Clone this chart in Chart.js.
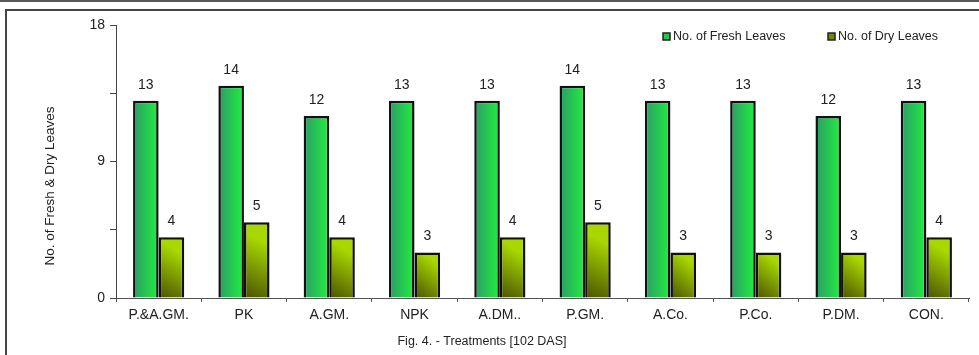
<!DOCTYPE html>
<html>
<head>
<meta charset="utf-8">
<script src="https://cdn.jsdelivr.net/npm/chart.js@4.4.0/dist/chart.umd.min.js"></script>
<style>
  html, body { margin: 0; padding: 0; background: #fff; }
  #wrap { position: relative; width: 979px; height: 355px; overflow: hidden; }
  #topline { position: absolute; left: 0; top: 0; width: 979px; height: 2px; background: #5a5a5a; }
  #frame { position: absolute; left: 5px; top: 9px; width: 1000px; height: 400px; border-left: 2px solid #444; border-top: 2px solid #444; }
  #myChart { position: absolute; left: 0; top: 0; }
</style>
</head>
<body>
<div id="wrap">
  <div id="topline"></div>
  <div id="frame"></div>
  <canvas id="myChart" width="979" height="355"></canvas>
</div>
<script>
// chart data
const treatments = ["P.&A.GM.", "PK", "A.GM.", "NPK", "A.DM..", "P.GM.", "A.Co.", "P.Co.", "P.DM.", "CON."];
const freshLeaves = [13, 14, 12, 13, 13, 14, 13, 13, 12, 13];
const dryLeaves = [4, 5, 4, 3, 4, 5, 3, 3, 3, 4];
const seriesNames = ["No. of Fresh Leaves", "No. of Dry Leaves"];
const yTicks = [0, 9, 18];

const FONT = "Liberation Sans, Arial, sans-serif";

// gradient per bar, built from the scales
function barGradient(ctx, dark, light, side) {
  const chart = ctx.chart;
  const x = chart.scales.x, y = chart.scales.y;
  if (!chart.chartArea || !x || !y) return light;
  const cw = x.width / treatments.length;
  const bw = cw * 0.6 / 2;
  const cx = x.getPixelForValue(ctx.dataIndex) + (side ? bw / 2 : -bw / 2);
  const top = y.getPixelForValue(ctx.raw);
  const base = y.getPixelForValue(0);
  // fresh: left->right, dry: bottom-left -> top-right
  const y1 = side ? base : top;
  const y2 = side ? top + (base - top) * 0.3 : top;
  const g = chart.ctx.createLinearGradient(cx - bw / 2, y1, cx + bw / 2, y2);
  g.addColorStop(0, dark);
  g.addColorStop(1, light);
  return g;
}

const valueLabels = {
  id: "valueLabels",
  afterDatasetsDraw(chart) {
    const c = chart.ctx;
    c.save();
    c.font = "14px " + FONT;
    c.fillStyle = "#222";
    c.textAlign = "center";
    c.textBaseline = "bottom";
    chart.data.datasets.forEach((ds, i) => {
      chart.getDatasetMeta(i).data.forEach((bar, j) => {
        c.fillText(ds.data[j], bar.x, bar.y - 9);
      });
    });
    c.restore();
  }
};

const extraText = {
  id: "extraText",
  afterDraw(chart) {
    const c = chart.ctx;
    c.save();
    // legend
    c.font = "12.5px " + FONT;
    c.textBaseline = "middle";
    c.textAlign = "left";
    const items = [[663, "#2fc24e", seriesNames[0]], [828, "#6e8a00", seriesNames[1]]];
    items.forEach(it => {
      c.fillStyle = it[1];
      c.fillRect(it[0], 33, 7, 7);
      c.strokeStyle = "#222";
      c.lineWidth = 1.5;
      c.strokeRect(it[0], 33, 7, 7);
      c.fillStyle = "#222";
      c.fillText(it[2], it[0] + 10, 37);
    });
    // axis titles
    c.font = "12.5px " + FONT;
    c.textAlign = "center";
    c.fillText("Fig. 4. - Treatments [102 DAS]", 482, 342);
    c.font = "13.5px " + FONT;
    c.translate(50, 186);
    c.rotate(-Math.PI / 2);
    c.fillText("No. of Fresh & Dry Leaves", 0, 0);
    c.restore();
  }
};

new Chart("myChart", {
  type: "bar",
  data: {
    labels: treatments,
    datasets: [{
      label: seriesNames[0],
      data: freshLeaves,
      backgroundColor: ctx => barGradient(ctx, "#2e9a6a", "#1ff03c", 0),
      borderColor: "#111",
      borderWidth: 2.5,
      borderSkipped: "bottom"
    }, {
      label: seriesNames[1],
      data: dryLeaves,
      backgroundColor: ctx => barGradient(ctx, "#4a5200", "#a8d800", 1),
      borderColor: "#111",
      borderWidth: 2.5,
      borderSkipped: "bottom"
    }]
  },
  options: {
    responsive: false,
    animation: false,
    layout: { padding: { top: 25, right: 10, bottom: 0, left: 0 } },
    plugins: { legend: { display: false }, tooltip: { enabled: false } },
    datasets: { bar: { categoryPercentage: 0.6, barPercentage: 1.0 } },
    scales: {
      x: {
        afterFit: s => { s.height = 57; },
        grid: { drawOnChartArea: false, drawTicks: true, tickLength: 4, color: "#555" },
        border: { color: "#555", width: 1 },
        ticks: { color: "#222", font: { family: FONT, size: 14 }, padding: 5, maxRotation: 0, autoSkip: false }
      },
      y: {
        min: 0,
        max: 18,
        afterFit: s => { s.width = 116; },
        grid: { drawOnChartArea: false, drawTicks: true, tickLength: 6, color: "#444" },
        border: { color: "#444", width: 1 },
        ticks: {
          stepSize: 4.5,
          color: "#222",
          padding: 5,
          font: { family: FONT, size: 14 },
          callback: v => yTicks.includes(v) ? v : ""
        }
      }
    }
  },
  plugins: [valueLabels, extraText]
});
</script>
</body>
</html>
